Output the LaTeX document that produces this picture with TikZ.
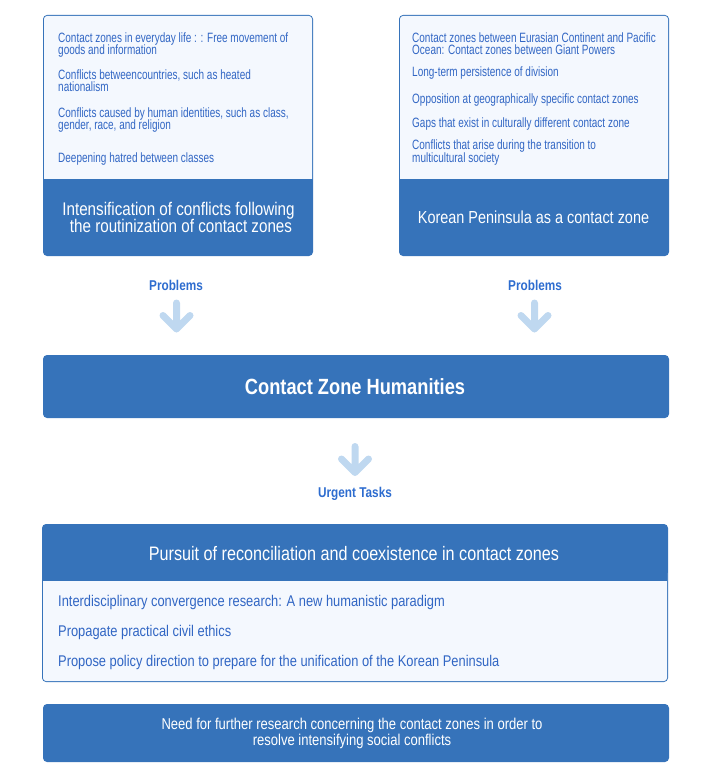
\documentclass[tikz,border=0pt]{standalone}
\usepackage{fontspec}
\setmainfont{Liberation Sans}
\newfontfamily\smallf[FakeStretch=0.74]{Liberation Sans}
\newfontfamily\mainf[FakeStretch=0.83]{Liberation Sans}
\definecolor{darkb}{HTML}{3673BA}
\definecolor{lightf}{HTML}{F4F8FE}
\definecolor{itemb}{HTML}{3166C4}
\definecolor{lblb}{HTML}{2D6CCF}
\definecolor{arrowb}{HTML}{BFD8F0}
\tikzset{
  tinyt/.style={font=\smallf\fontsize{13.5}{12}\selectfont, text=itemb, inner sep=0pt, anchor=base west},
  itemt/.style={font=\mainf\fontsize{15.5}{16}\selectfont, text=itemb, inner sep=0pt, anchor=base west},
  headt/.style={font=\mainf\fontsize{18.3}{17}\selectfont, text=white, inner sep=0pt, anchor=base},
  bigt/.style={font=\mainf\bfseries\fontsize{22}{22}\selectfont, text=white, inner sep=0pt, anchor=base},
  bott/.style={font=\mainf\fontsize{15.7}{16}\selectfont, text=white, inner sep=0pt, anchor=base},
  lblt/.style={font=\mainf\bfseries\fontsize{14.2}{14}\selectfont, text=lblb, inner sep=0pt, anchor=base},
  downarrow/.pic={\draw[arrowb, line width=7pt, line cap=round, line join=round]
     (0,0) -- (0,26) (-13.5,12.5) -- (0,26) -- (13.5,12.5);}
}
\begin{document}
\begin{tikzpicture}[x=1pt,y=-1pt]
\useasboundingbox (0,0) rectangle (712,776);
% top-left box
\fill[darkb, rounded corners=4pt] (43,15) rectangle (313,256);
\fill[lightf, rounded corners=3pt] (44,16) rectangle (312,190);
\fill[darkb] (43,179) rectangle (313,192);
% top-right box
\fill[darkb, rounded corners=4pt] (399,15) rectangle (669,256);
\fill[lightf, rounded corners=3pt] (400,16) rectangle (668,190);
\fill[darkb] (399,179) rectangle (669,192);
% middle box
\fill[darkb, rounded corners=4pt] (43,355) rectangle (669,418);
% pursuit box
\fill[darkb, rounded corners=4pt] (42,524) rectangle (668,682);
\fill[lightf, rounded corners=3pt] (43,570) rectangle (667,681);
\fill[darkb] (43,560) rectangle (667,581);
% bottom box
\fill[darkb, rounded corners=4pt] (43,704) rectangle (669,762);

% top-left texts
\node[tinyt] (tl1a) at (58,43) {Contact zones in everyday life : : Free movement of};
\node[tinyt] (tl1b) at (58,55) {goods and information};
\node[tinyt] (tl2a) at (58,79) {Conflicts betweencountries, such as heated};
\node[tinyt] (tl2b) at (58,91) {nationalism};
\node[tinyt] (tl3a) at (58,117) {Conflicts caused by human identities, such as class,};
\node[tinyt] (tl3b) at (58,129) {gender, race, and religion};
\node[tinyt] (tl4) at (58,162) {Deepening hatred between classes};
\node[headt] (tlh1) at (178.5,215) {Intensification of conflicts following};
\node[headt] (tlh2) at (181,232) {the routinization of contact zones};

% top-right texts
\node[tinyt] (tr1a) at (412,43) {Contact zones between Eurasian Continent and Pacific};
\node[tinyt] (tr1b) at (412,55) {Ocean: Contact zones between Giant Powers};
\node[tinyt] (tr2) at (412,77) {Long-term persistence of division};
\node[tinyt] (tr3) at (412,103) {Opposition at geographically specific contact zones};
\node[tinyt] (tr4) at (412,127) {Gaps that exist in culturally different contact zone};
\node[tinyt] (tr5a) at (412,149) {Conflicts that arise during the transition to};
\node[tinyt] (tr5b) at (412,162) {multicultural society};
\node[headt, font=\mainf\fontsize{17.4}{17}\selectfont] (trh) at (533.5,223) {Korean Peninsula as a contact zone};

% labels and arrows
\node[lblt] (p1) at (176,290) {Problems};
\node[lblt] (p2) at (535,290) {Problems};
\pic at (176.5,303) {downarrow};
\pic at (534.5,303) {downarrow};
\node[bigt] (czh) at (355,394) {Contact Zone Humanities};
\pic at (355,446.5) {downarrow};
\node[lblt] (ut) at (355,497) {Urgent Tasks};

% pursuit
\node[headt, font=\mainf\fontsize{19.5}{17}\selectfont] (ph) at (354,560) {Pursuit of reconciliation and coexistence in contact zones};
\node[itemt] (pi1) at (58,606) {Interdisciplinary convergence research: A new humanistic paradigm};
\node[itemt] (pi2) at (58,636) {Propagate practical civil ethics};
\node[itemt] (pi3) at (58,666) {Propose policy direction to prepare for the unification of the Korean Peninsula};

% bottom
\node[bott] (b1) at (352,729) {Need for further research concerning the contact zones in order to};
\node[bott] (b2) at (352,745) {resolve intensifying social conflicts};
\end{tikzpicture}
\end{document}
